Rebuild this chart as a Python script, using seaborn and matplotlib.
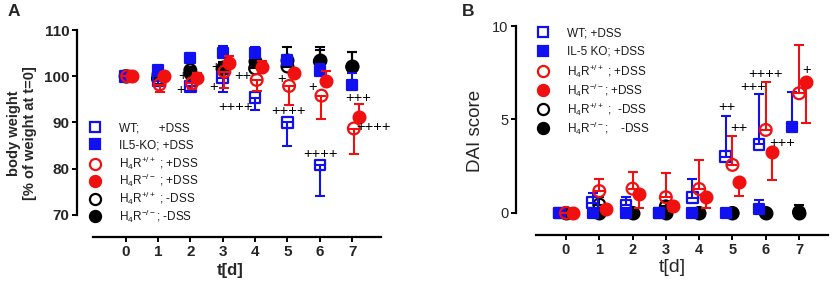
import numpy as np
import matplotlib
matplotlib.use("Agg")
import matplotlib.pyplot as plt
from matplotlib.lines import Line2D
import seaborn as sns

sns.set_style("ticks")
plt.rcParams["font.family"] = ["Liberation Sans", "DejaVu Sans"]
plt.rcParams["mathtext.fontset"] = "custom"
plt.rcParams["mathtext.rm"] = "Liberation Sans"
plt.rcParams["mathtext.it"] = "Liberation Sans:italic"
plt.rcParams["mathtext.bf"] = "Liberation Sans:bold"

days = [0, 1, 2, 3, 4, 5, 6, 7]
nan = np.nan

# ---------------- Panel A: body weight ----------------
bw_wt = [100, 99.0, 97.8, 99.7, 95.4, 90.0, 80.8, nan]
bw_wt_err = [0, 0.8, 1.0, 3.0, 2.7, 5.1, 6.7, nan]
bw_il5 = [100, 101.4, 104.0, 105.1, 105.0, 103.5, 101.2, 98.1]
bw_il5_err = [0, 0.5, 1.0, 1.4, 1.4, 1.0, 1.5, 2.5]
bw_h4wt = [100, 98.2, 98.5, 101.0, 99.2, 97.9, 95.8, 88.7]
bw_h4wt_err = [0, 1.5, 1.2, 3.5, 2.3, 4.1, 5.1, 5.5]
bw_h4ko = [100, 100.0, 99.7, 102.8, 102.1, 100.8, 99.0, 91.1]
bw_h4ko_err = [0, 0.5, 1.0, 1.5, 1.1, 0.6, 2.2, 2.9]
bw_ctl_wt = [100, 99.5, 101.3, 101.5, 101.7, 102.1, 103.2, 102.0]
bw_ctl_wt_err = [0, 0.5, 0.8, 1.0, 1.0, 1.0, 3.2, 3.2]
bw_ctl_ko = [100, 100.5, 100.8, 102.0, 103.2, 103.6, 103.5, 102.3]
bw_ctl_ko_err = [0, 0.5, 1.0, 1.0, 1.0, 2.8, 2.2, 2.9]

ann_a_text = ["+", "+", "+", "+", "++++", "++", "+", "++++", "+", "++++", "+++", "++++"]
ann_a_x = [1.76, 1.70, 2.78, 2.72, 3.40, 3.61, 4.81, 5.03, 5.77, 6.02, 7.19, 7.65]
ann_a_y = [100.0, 97.0, 102.1, 97.6, 93.4, 100.1, 99.4, 92.5, 97.7, 83.2, 95.3, 89.0]

# ---------------- Panel B: DAI score ----------------
dai_wt = [0, 0.55, 0.43, 0, 0.82, 3.01, 3.67, nan]
dai_wt_err = [0, 0.5, 0.41, 0, 1.0, 2.18, 2.69, nan]
dai_il5 = [0, 0, 0, 0, 0, 0, 0.2, 4.58]
dai_il5_err = [0, 0, 0, 0, 0, 0, 0.5, 1.91]
dai_h4wt = [0, 1.17, 1.3, 0.84, 1.28, 2.57, 4.44, 6.40]
dai_h4wt_err = [0, 0.65, 0.9, 1.28, 1.55, 1.57, 2.55, 2.58]
dai_h4ko = [0, 0.2, 1.02, 0.39, 0.87, 1.64, 3.24, 7.02]
dai_h4ko_err = [0, 0.15, 0.78, 0.3, 0.62, 0.71, 1.48, 2.2]
dai_ctl_wt = [0, 0.45, 0, 0.35, 0, 0, 0, 0.05]
dai_ctl_wt_err = [0, 0.4, 0, 0.3, 0, 0, 0, 0.4]
dai_ctl_ko = [0, 0, 0, 0, 0, 0, 0, 0]
dai_ctl_ko_err = [0, 0, 0, 0, 0, 0, 0, 0]

ann_b_text = ["++", "++", "+++", "++++", "+++", "+"]
ann_b_x = [4.83, 5.18, 5.63, 5.98, 6.49, 7.24]
ann_b_y = [5.65, 4.56, 6.75, 7.43, 3.73, 7.65]

labels_a = ["WT;      +DSS", "IL5-KO; +DSS",
            r"H$_\mathregular{4}$R$^\mathregular{+/+}$ ; +DSS",
            r"H$_\mathregular{4}$R$^\mathregular{-/-}$ ; +DSS",
            r"H$_\mathregular{4}$R$^\mathregular{+/+}$ ; -DSS",
            r"H$_\mathregular{4}$R$^\mathregular{-/-}$; -DSS"]
labels_b = ["WT; +DSS", "IL-5 KO; +DSS",
            r"H$_\mathregular{4}$R$^\mathregular{+/+}$ ; +DSS",
            r"H$_\mathregular{4}$R$^\mathregular{-/-}$; +DSS",
            r"H$_\mathregular{4}$R$^\mathregular{+/+}$ ;  -DSS",
            r"H$_\mathregular{4}$R$^\mathregular{-/-}$;    -DSS"]

BLUE = "#1010f0"
RED = "#f01010"
BLACK = "#000000"

# style per series: marker, color, filled
styles = [("s", BLUE, False), ("s", BLUE, True), ("o", RED, False),
          ("o", RED, True), ("o", BLACK, False), ("o", BLACK, True)]

W, H = 834, 284
fig = plt.figure(figsize=(W / 100, H / 100), dpi=100)


def px_axes(l, t, r, b):
    return fig.add_axes([l / W, 1 - b / H, (r - l) / W, (b - t) / H])


def draw_series(ax, y, err, direction, style, offset, z):
    marker, color, filled = style
    xs = np.array(days, dtype=float) + offset
    y = np.array(y, dtype=float)
    err = np.array(err, dtype=float)
    zero = np.zeros_like(err)
    yerr = [zero, err] if direction == "up" else [err, zero]
    ax.errorbar(xs, y, yerr=yerr, fmt="none", ecolor=color, elinewidth=1.5,
                capsize=3.5, capthick=1.5, zorder=z)
    size = 58 if marker == "s" else 72
    sns.scatterplot(x=xs, y=y, ax=ax, marker=marker, s=size, color=color,
                    facecolor=(color if filled else "none"), edgecolor=color,
                    linewidth=1.6, zorder=z + 0.5, legend=False, clip_on=False)


def style_axes(ax, xlim, ylim, ybounds, xbounds, yticks, bold_y, bold_x, lsize):
    ax.set_xlim(*xlim)
    ax.set_ylim(*ylim)
    for s in ["top", "right"]:
        ax.spines[s].set_visible(False)
    for s in ["left", "bottom"]:
        ax.spines[s].set_linewidth(1.6)
        ax.spines[s].set_color("black")
    ax.spines["left"].set_bounds(*ybounds)
    ax.spines["bottom"].set_bounds(*xbounds)
    ax.set_xticks(days)
    ax.set_yticks(yticks)
    ax.tick_params(axis="both", width=1.4, length=3.5, color="black",
                   labelsize=lsize, pad=2)
    for lab in ax.get_yticklabels():
        lab.set_fontweight("bold" if bold_y else "normal")
    for lab in ax.get_xticklabels():
        lab.set_fontweight("bold" if bold_x else "normal")
    ax.set_facecolor("none")


def add_legend_rows(ax, labels, x_px, y_px, fontsize, weight):
    # one single-entry legend per row so all rows are evenly spaced
    for (marker, color, filled), lab, yy in zip(styles, labels, y_px):
        h = Line2D([], [], linestyle="none", marker=marker,
                   markersize=8.0 if marker == "o" else 7.4,
                   markerfacecolor=(color if filled else "none"),
                   markeredgecolor=color, markeredgewidth=1.6, label=lab)
        leg = ax.legend(handles=[h], loc="center left",
                        bbox_to_anchor=(x_px / W, 1 - yy / H),
                        bbox_transform=fig.transFigure, frameon=False,
                        prop={"size": fontsize, "weight": weight},
                        handlelength=1.0, handletextpad=1.5,
                        borderaxespad=0, borderpad=0)
        for txt in leg.get_texts():
            txt.set_color("#1a1a1a")
        ax.add_artist(leg)
    ax.legend_ = None


# ---------- Panel A ----------
axA = px_axes(77, 30, 383, 237)
seriesA = [(bw_ctl_wt, bw_ctl_wt_err, "up", styles[4], 0.0),
           (bw_ctl_ko, bw_ctl_ko_err, "up", styles[5], 0.0),
           (bw_wt, bw_wt_err, "down", styles[0], 0.0),
           (bw_il5, bw_il5_err, "up", styles[1], 0.0),
           (bw_h4wt, bw_h4wt_err, "down", styles[2], 0.05),
           (bw_h4ko, bw_h4ko_err, "up", styles[3], 0.2)]
for i, (y, e, d, st, off) in enumerate(seriesA):
    draw_series(axA, y, e, d, st, off, 3 + i)
style_axes(axA, (-1.5, 7.95), (65.24, 110), (70, 110), (-1.0, 7.9),
           [70, 80, 90, 100, 110], True, True, 11)
axA.set_xlabel("t[d]", fontsize=12, fontweight="bold", labelpad=3)
axA.set_ylabel("body weight\n[% of weight at t=0]", fontsize=10.5,
               fontweight="bold", labelpad=5, linespacing=1.2)
for t, x, y in zip(ann_a_text, ann_a_x, ann_a_y):
    axA.text(x, y, t, ha="center", va="center", fontsize=10.5, color="black",
             zorder=20)
add_legend_rows(axA, labels_a, 89.5, [128, 145.6, 163.2, 180.8, 198.4, 216],
                8.5, "normal")

# ---------- Panel B ----------
axB = px_axes(516, 26, 829, 235)
seriesB = [(dai_ctl_ko, dai_ctl_ko_err, "up", styles[5], 0.0),
           (dai_ctl_wt, dai_ctl_wt_err, "up", styles[4], 0.0),
           (dai_wt, dai_wt_err, "up", styles[0], -0.2),
           (dai_il5, dai_il5_err, "up", styles[1], -0.2),
           (dai_h4wt, dai_h4wt_err, "up", styles[2], 0.0),
           (dai_h4ko, dai_h4ko_err, "down", styles[3], 0.2)]
for i, (y, e, d, st, off) in enumerate(seriesB):
    draw_series(axB, y, e, d, st, off, 3 + i)
style_axes(axB, (-1.5, 7.9), (-1.18, 10), (0, 10), (-0.9, 7.87),
           [0, 5, 10], False, True, 10.5)
axB.set_xlabel("t[d]", fontsize=14, labelpad=2)
axB.set_ylabel("DAI score", fontsize=13.5, labelpad=6)
for t, x, y in zip(ann_b_text, ann_b_x, ann_b_y):
    axB.text(x, y, t, ha="center", va="center", fontsize=10.5, color="black",
             zorder=20)
add_legend_rows(axB, labels_b, 537.5, [33, 52, 71, 90, 109, 128],
                8.5, "normal")

fig.text(8 / W, 1 - 12 / H, "A", fontsize=12.5, fontweight="bold", va="center")
fig.text(462 / W, 1 - 12 / H, "B", fontsize=12.5, fontweight="bold", va="center")

fig.savefig("out.png", dpi=100)
